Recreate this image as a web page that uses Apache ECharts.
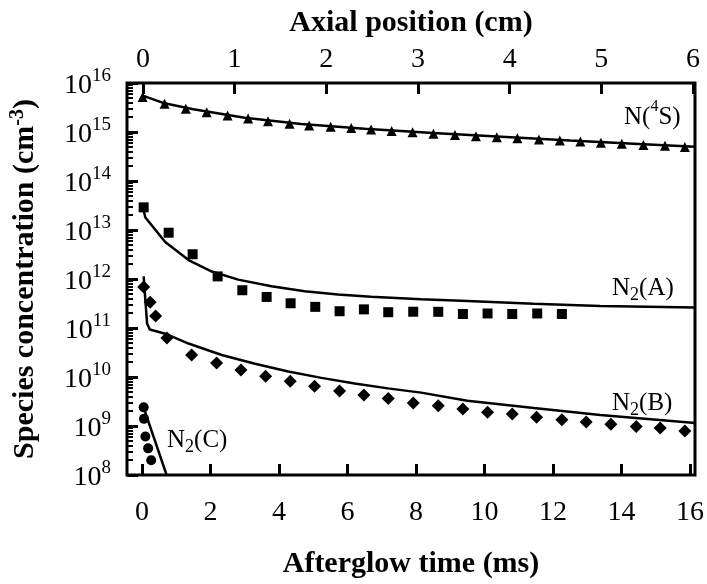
<!DOCTYPE html>
<html style="height: 100%">
<head>
<meta charset="utf-8">
<title>Afterglow species</title>
<script src="https://cdn.jsdelivr.net/npm/echarts@6/dist/echarts.min.js"></script>
</head>
<body style="height: 100%; margin: 0; background: #fff">
<div id="main" style="width: 707px; height: 584px"></div>
<script type="text/javascript">
// afterglow time in ms, concentrations in cm-3
var n4sTime = [0.02,0.66,1.28,1.89,2.50,3.10,3.68,4.31,4.88,5.51,6.11,6.69,7.29,7.90,8.51,9.14,9.75,10.36,10.96,11.59,12.20,12.80,13.40,14.01,14.64,15.27,15.85];
var n4sConc = [5.17e15,3.79e15,2.97e15,2.54e15,2.18e15,1.88e15,1.65e15,1.47e15,1.36e15,1.28e15,1.20e15,1.12e15,1.05e15,9.9e14,9.2e14,8.7e14,8.2e14,7.8e14,7.45e14,7.05e14,6.7e14,6.37e14,6.05e14,5.75e14,5.46e14,5.21e14,4.93e14];
var n4sFitTime = [0, 0.66, 1.5, 3.0, 4.65, 6.5, 8.5, 10.5, 12.5, 14.5, 16.15];
var n4sFitConc = [5.6e15, 3.85e15, 2.9e15, 1.95e15, 1.45e15, 1.17e15, 9.5e14, 8.0e14, 6.7e14, 5.7e14, 5.0e14];

var n2aTime = [0.05,0.78,1.48,2.21,2.93,3.64,4.34,5.06,5.77,6.48,7.19,7.92,8.65,9.37,10.09,10.81,11.54,12.26];
var n2aConc = [2.9e13,8.8e12,3.2e12,1.13e12,5.9e11,4.3e11,3.2e11,2.7e11,2.2e11,2.4e11,2.1e11,2.15e11,2.14e11,1.93e11,1.98e11,1.93e11,1.98e11,1.93e11];
var n2aFitTime = [0.05,0.1,0.68,1.36,2.04,2.81,3.78,4.75,5.72,6.69,8.15,9.50,11.44,13.38,16.15];
var n2aFitConc = [2.48e13,1.8e13,5.68e12,2.44e12,1.42e12,9.7e11,7.1e11,5.65e11,4.84e11,4.34e11,3.85e11,3.56e11,3.14e11,2.82e11,2.61e11];

var n2bTime = [0.05,0.24,0.4,0.73,1.45,2.18,2.89,3.61,4.33,5.04,5.77,6.48,7.19,7.92,8.65,9.37,10.09,10.81,11.52,12.26,12.97,13.69,14.43,15.13,15.85];
var n2bConc = [6.9e11,3.35e11,1.75e11,6.25e10,2.8e10,1.92e10,1.39e10,1.03e10,8.2e9,6.5e9,5.2e9,4.3e9,3.65e9,2.96e9,2.59e9,2.22e9,1.9e9,1.76e9,1.51e9,1.34e9,1.2e9,1.08e9,9.8e8,9.1e8,7.9e8];
var n2bFitTime = [0.05,0.15,0.23,0.68,1.36,2.33,3.30,4.27,5.24,6.21,7.18,8.15,9.50,11.44,13.38,16.15];
var n2bFitConc = [1.13e12,1.23e11,9.3e10,7.66e10,4.82e10,2.81e10,1.86e10,1.3e10,9.6e9,7.4e9,5.86e9,4.8e9,3.26e9,2.33e9,1.68e9,1.15e9];

var n2cTime = [0.05,0.06,0.1,0.18,0.27];
var n2cConc = [2.4e9,1.4e9,6.1e8,3.5e8,2.0e8];
var n2cFitTime = [0.03, 0.72];
var n2cFitConc = [2.6e9, 1.0e8];

var timeTicks = [0,2,4,6,8,10,12,14,16];
var posTicks = [0,1,2,3,4,5,6];

// minor tick positions (log10 of 2..9 x 10^n)
var minorTicks = [];
for (var d = 8; d < 16; d++) {
	for (var k = 2; k <= 9; k++) minorTicks.push(d + Math.log10(k));
}

function pairs(xs, ys) {
	var out = [];
	for (var i = 0; i < xs.length; i++) out.push([xs[i], ys[i]]);
	return out;
}

var font = 'Liberation Serif';
var black = '#000';
var chart = echarts.init(document.getElementById('main'));

function scatter(name, sym, size, xs, ys) {
	return { name: name, type: 'scatter', symbol: sym, symbolSize: size,
		itemStyle: { color: black, opacity: 1 }, data: pairs(xs, ys), z: 5 };
}
function fit(name, xs, ys) {
	return { name: name, type: 'line', showSymbol: false, symbol: 'none',
		lineStyle: { color: black, width: 2.5 }, data: pairs(xs, ys), z: 4 };
}
function tag(x, y, main, sub) {
	return { type: 'text', left: x, top: y, style: { text: '{n|N}{s|2}{n|(' + main + ')}', rich: {
		n: { fontFamily: font, fontSize: 25, fill: black, verticalAlign: 'top' },
		s: { fontFamily: font, fontSize: 18, fill: black, verticalAlign: 'top', padding: [10, 0, 0, 0] } } } };
}

var option = {
	backgroundColor: '#fff',
	animation: false,
	grid: { left: 125, right: 12, top: 83, bottom: 102, show: true,
		borderColor: black, borderWidth: 3, backgroundColor: 'transparent' },
	xAxis: [{
		type: 'value', position: 'bottom', min: -0.4364, max: 16.146,
		name: 'Afterglow time (ms)', nameLocation: 'middle', nameGap: 74,
		nameTextStyle: { fontFamily: font, fontWeight: 'bold', fontSize: 30, color: black },
		axisLine: { show: false, onZero: false },
		axisTick: { inside: true, length: 11, customValues: timeTicks, lineStyle: { color: black, width: 3 } },
		axisLabel: { customValues: timeTicks, margin: 24, fontFamily: font, fontSize: 28, color: black },
		splitLine: { show: false }
	}, {
		type: 'value', position: 'top', min: -0.1739, max: 6.0217,
		name: 'Axial position (cm)', nameLocation: 'middle', nameGap: 45,
		nameTextStyle: { fontFamily: font, fontWeight: 'bold', fontSize: 30, color: black },
		axisLine: { show: false, onZero: false },
		axisTick: { inside: true, length: 11, customValues: posTicks, lineStyle: { color: black, width: 3 } },
		axisLabel: { customValues: posTicks, margin: 9, fontFamily: font, fontSize: 28, color: black },
		splitLine: { show: false }
	}],
	yAxis: [{
		type: 'log', logBase: 10, min: 1e8, max: 1e16, show: false,
		axisLine: { onZero: false },
		splitLine: { show: false }
	}, {
		type: 'value', position: 'left', min: 8, max: 16, interval: 1,
		name: 'Species concentration (cm{s|-3})', nameLocation: 'middle', nameGap: 84,
		nameTextStyle: { fontFamily: font, fontWeight: 'bold', fontSize: 30, color: black,
			rich: { s: { fontFamily: font, fontWeight: 'bold', fontSize: 20, color: black, padding: [0, 0, 15, 0] } } },
		axisLine: { show: false, onZero: false },
		axisTick: { inside: true, length: 11, lineStyle: { color: black, width: 3 } },
		axisLabel: { margin: 16, color: black,
			formatter: function (v) { return '{t|10}{s|' + v + '}'; },
			rich: {
				t: { fontFamily: font, fontSize: 28, color: black, verticalAlign: 'bottom' },
				s: { fontFamily: font, fontSize: 19, color: black, verticalAlign: 'bottom', padding: [0, 0, 14, 0] }
			} },
		splitLine: { show: false }
	}, {
		type: 'value', position: 'left', min: 8, max: 16,
		axisLine: { show: false, onZero: false },
		axisTick: { inside: true, length: 6, customValues: minorTicks, lineStyle: { color: black, width: 2 } },
		axisLabel: { show: false },
		splitLine: { show: false }
	}],
	series: [
		fit('N(4S) fit', n4sFitTime, n4sFitConc),
		scatter('N(4S)', 'triangle', 10, n4sTime, n4sConc),
		fit('N2(A) fit', n2aFitTime, n2aFitConc),
		scatter('N2(A)', 'rect', 10, n2aTime, n2aConc),
		fit('N2(B) fit', n2bFitTime, n2bFitConc),
		scatter('N2(B)', 'diamond', 13, n2bTime, n2bConc),
		fit('N2(C) fit', n2cFitTime, n2cFitConc),
		scatter('N2(C)', 'circle', 10, n2cTime, n2cConc)
	],
	graphic: [
		{ type: 'text', left: 624, top: 99, style: { text: '{n|N(}{s|4}{n|S)}', rich: {
			n: { fontFamily: font, fontSize: 25, fill: black, verticalAlign: 'top', padding: [6, 0, 0, 0] },
			s: { fontFamily: font, fontSize: 16, fill: black, verticalAlign: 'top' } } } },
		tag(612, 276, 'A'),
		tag(612, 391, 'B'),
		tag(167, 428, 'C')
	]
};
chart.setOption(option);
</script>
</body>
</html>
